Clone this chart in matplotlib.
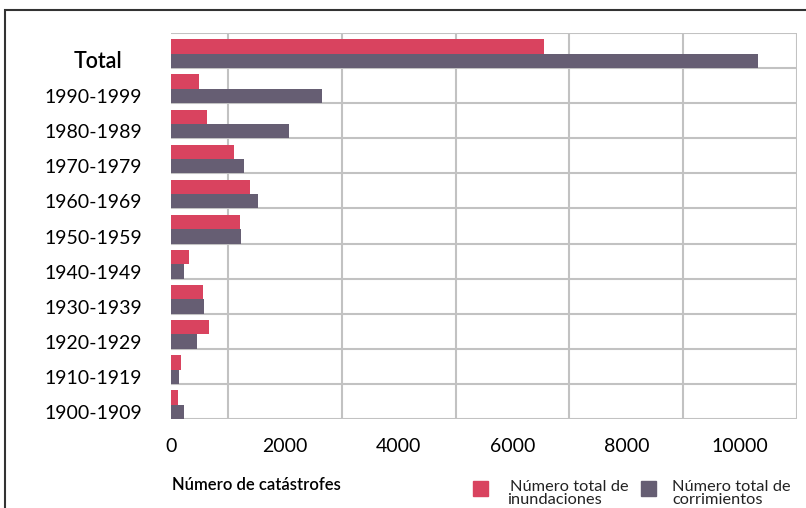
import numpy as np
import matplotlib.pyplot as plt
from matplotlib.patches import Rectangle

categories = ["Total", "1990-1999", "1980-1989", "1970-1979", "1960-1969",
              "1950-1959", "1940-1949", "1930-1939", "1920-1929",
              "1910-1919", "1900-1909"]
inundaciones = [6560, 490, 630, 1100, 1390, 1210, 315, 560, 665, 175, 125]
corrimientos = [10320, 2650, 2070, 1280, 1525, 1230, 230, 580, 455, 140, 230]
xticks = [0, 2000, 4000, 6000, 8000, 10000]

red = "#d9435f"
grey = "#665e73"
plt.rcParams['font.family'] = ['Lato', 'DejaVu Sans']

fig = plt.figure(figsize=(8.06, 5.08), dpi=100)
ax = fig.add_axes([0.2122, 0.1752, 0.7767, 0.7598])

y = np.arange(len(categories))
h = 0.41
ax.barh(y - 0.115, inundaciones, height=h, color=red, zorder=3)
ax.barh(y + 0.295, corrimientos, height=h, color=grey, zorder=3)

ax.set_ylim(len(categories) - 0.5, -0.5)
ax.set_xlim(0, 11000)
ax.set_yticks(y + 0.3)
ax.set_yticklabels([""] + categories[1:], fontsize=14)
ax.text(-0.078, 0.3, categories[0], transform=ax.get_yaxis_transform(),
        fontsize=15.5, fontweight='semibold', ha='right', va='center')
ax.set_xticks(xticks)
ax.set_xticklabels([str(t) for t in xticks], fontsize=14)
ax.set_xticks(np.arange(0, 11001, 1000), minor=True)
ax.set_yticks(np.arange(-0.5, len(categories), 1), minor=True)
ax.tick_params(axis='both', which='both', length=0)
ax.tick_params(axis='y', pad=21)
ax.tick_params(axis='x', pad=14)
ax.grid(True, which='minor', color='#c2c2c2', linewidth=1.5, zorder=0)
ax.grid(False, which='major')
for s in ax.spines.values():
    s.set_visible(False)

# figure frame (cropped at right/bottom)
fig.patches.append(Rectangle((5 / 806, -0.1), 1.2, 1 - 10 / 508 + 0.1,
                             transform=fig.transFigure, fill=False,
                             edgecolor='#333333', linewidth=1.5))

fig.text(172 / 806, 1 - 485 / 508, "Número de catástrofes", fontsize=12,
         fontweight='semibold', va='center', ha='left')

# legend
legend_items = [(473, 510, 507, red, "Número total de", "inundaciones"),
                (641, 672, 672, grey, "Número total de", "corrimientos")]
for sx, tx1, tx2, col, l1, l2 in legend_items:
    fig.patches.append(Rectangle((sx / 806, 1 - 496 / 508), 15 / 806, 15 / 508,
                                 transform=fig.transFigure, color=col))
    fig.text(tx1 / 806, 1 - 491 / 508, l1, fontsize=11.8, va='baseline', ha='left',
             color='#222222')
    fig.text(tx2 / 806, 1 - 507.5 / 508, l2, fontsize=11.8, va='bottom', ha='left',
             color='#222222')

fig.savefig("out.png", dpi=100)
